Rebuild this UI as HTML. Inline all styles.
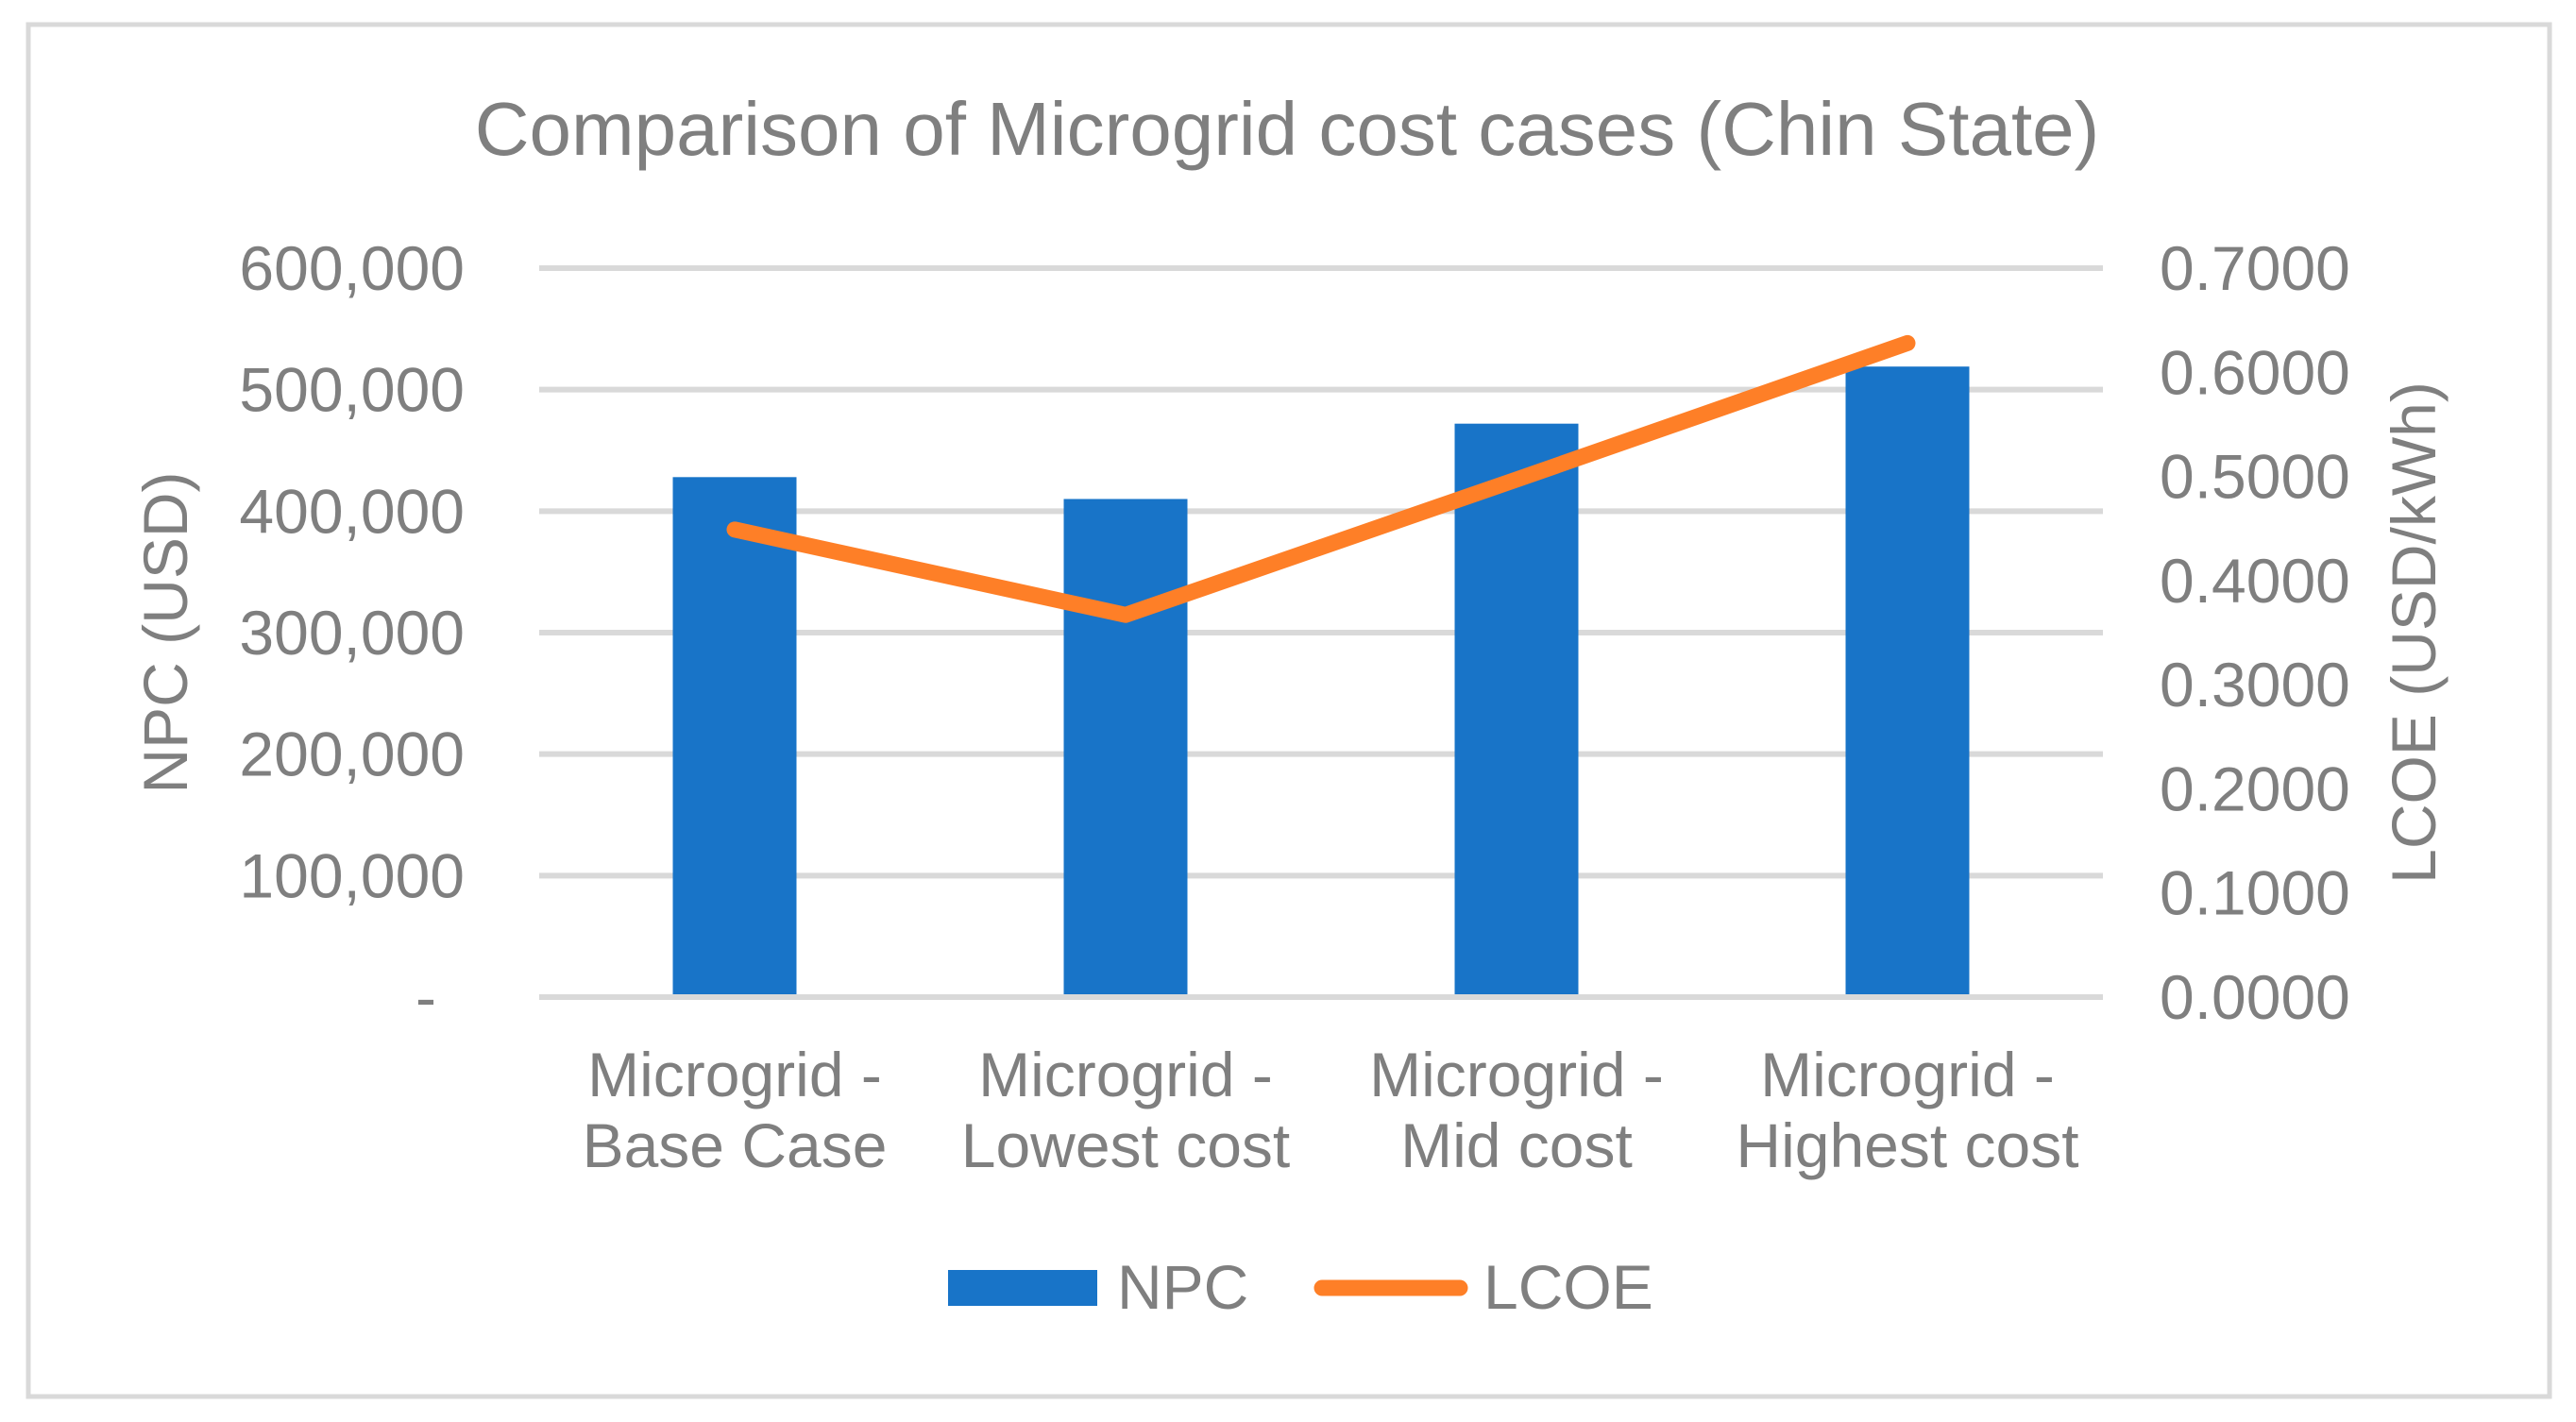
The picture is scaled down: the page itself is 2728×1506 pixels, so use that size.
<!DOCTYPE html>
<html><head><meta charset="utf-8"><style>
html,body{margin:0;padding:0;background:#fff;}
svg{display:block;font-family:"Liberation Sans",Arial,sans-serif;}
</style></head><body>
<svg id="chart" width="2728" height="1506" viewBox="0 0 2728 1506" xmlns="http://www.w3.org/2000/svg">
<rect x="30" y="26" width="2670" height="1453" fill="#fff" stroke="#d9d9d9" stroke-width="5"/>
<text x="1363" y="164" font-size="80" fill="#7f7f7f" text-anchor="middle">Comparison of Microgrid cost cases (Chin State)</text>
<g id="grid"></g>
<g id="bars"></g>
<g id="line"></g>
<g id="ticks"></g>
<text transform="translate(198,670) rotate(-90)" font-size="66" fill="#7f7f7f" text-anchor="middle">NPC (USD)</text>
<text transform="translate(2579,670) rotate(-90)" font-size="66" fill="#7f7f7f" text-anchor="middle">LCOE (USD/kWh)</text>
<g>
<rect x="1004" y="1345" width="158" height="38" fill="#1874c8"/>
<text x="1183" y="1386" font-size="66" fill="#7f7f7f">NPC</text>
<line x1="1400" y1="1364" x2="1546" y2="1364" stroke="#fe7f27" stroke-width="17" stroke-linecap="round"/>
<text x="1571" y="1386" font-size="66" fill="#7f7f7f">LCOE</text>
</g>
</svg>
<script>
const categories = [["Microgrid -","Base Case"],["Microgrid -","Lowest cost"],["Microgrid -","Mid cost"],["Microgrid -","Highest cost"]];
const npcValues = [428000, 410000, 472000, 519000];
const lcoeValues = [0.449, 0.367, 0.497, 0.628];
const leftTicks = [0,100000,200000,300000,400000,500000,600000];
const leftTickLabels = ["-","100,000","200,000","300,000","400,000","500,000","600,000"];
const rightTicks = [0,0.1,0.2,0.3,0.4,0.5,0.6,0.7];
const rightTickLabels = ["0.0000","0.1000","0.2000","0.3000","0.4000","0.5000","0.6000","0.7000"];

const NS="http://www.w3.org/2000/svg";
const X0=571,X1=2227,YB=1056,YT=284;
const yL=v=>YB-(v/600000)*(YB-YT);
const yR=v=>YB-(v/0.7)*(YB-YT);
const band=(X1-X0)/categories.length;
const xc=i=>X0+band*(i+0.5);
function mk(tag,attrs,parent){const e=document.createElementNS(NS,tag);for(const k in attrs)e.setAttribute(k,attrs[k]);parent.appendChild(e);return e;}
const grid=document.getElementById('grid'),bars=document.getElementById('bars'),lineG=document.getElementById('line'),ticks=document.getElementById('ticks');
leftTicks.forEach((t,i)=>{
  const g=mk('line',{x1:X0,x2:X1,y1:yL(t),y2:yL(t),stroke:'#d9d9d9','stroke-width':6},grid);
  
  
  const lbl=leftTickLabels[i];
  const tx=mk('text',{x:lbl==='-'?462:492,y:yL(t)+23,'font-size':66,fill:'#7f7f7f','text-anchor':'end'},ticks);
  tx.textContent=lbl;
  
  
});
rightTicks.forEach((t,i)=>{
  const tx=mk('text',{x:2287,y:yR(t)+23,'font-size':66,fill:'#7f7f7f'},ticks);
  tx.textContent=rightTickLabels[i];
  
  
});
const bw=131;
npcValues.forEach((v,i)=>{
  const r=mk('rect',{x:xc(i)-bw/2,y:yL(v),width:bw,height:YB-yL(v)-3,fill:'#1874c8'},bars);
  
  
});
categories.forEach((c,i)=>{
  c.forEach((s,j)=>{
    const tx=mk('text',{x:xc(i),y:1161+j*75,'font-size':66,fill:'#7f7f7f','text-anchor':'middle'},ticks);
    tx.textContent=s;
    
    
  });
});
const pts=lcoeValues.map((v,i)=>xc(i)+','+yR(v)).join(' ');
const pl=mk('polyline',{points:pts,fill:'none',stroke:'#fe7f27','stroke-width':17,'stroke-linecap':'round','stroke-linejoin':'round'},lineG);


</script>
</body></html>
